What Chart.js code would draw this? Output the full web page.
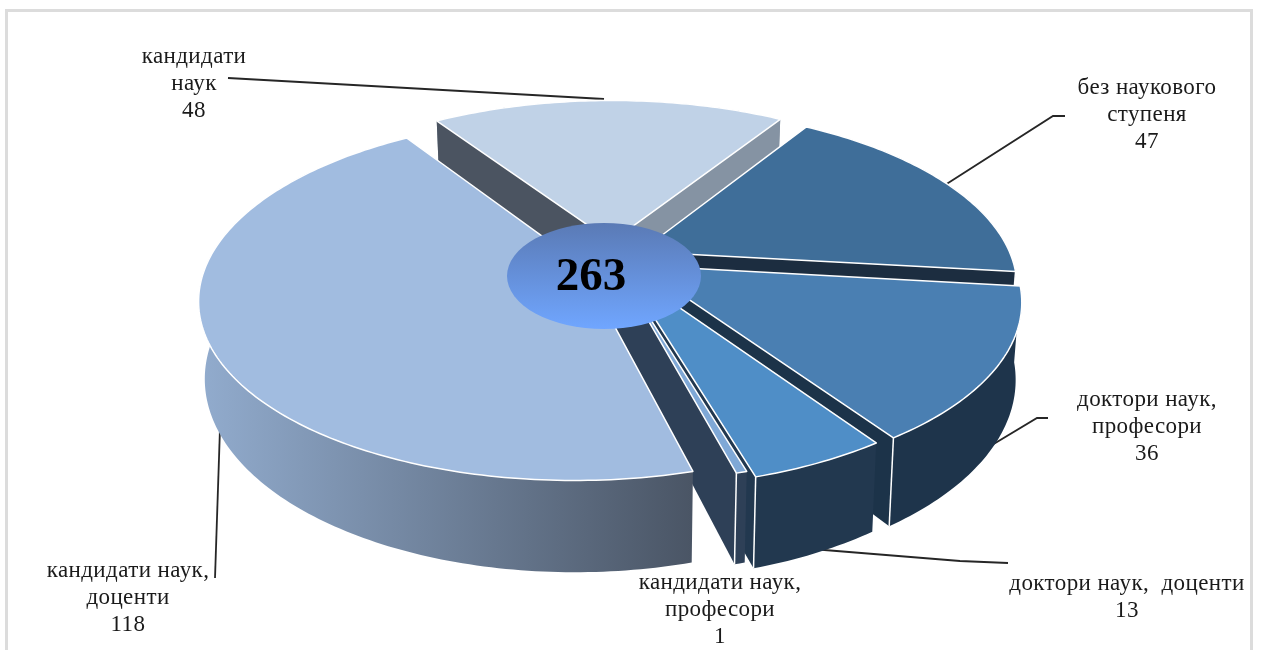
<!DOCTYPE html>
<html>
<head>
<meta charset="utf-8">
<script src="https://cdn.jsdelivr.net/npm/chart.js@4/dist/chart.umd.min.js"></script>
<style>
body { margin: 0; background: #fff; overflow: hidden; }
#frame { position: absolute; left: 5px; top: 9px; width: 1248px; height: 660px; border: 3px solid #dcdcdc; box-sizing: border-box; }
#chart { position: absolute; left: 0; top: 0; }
</style>
</head>
<body>
<div id="frame"></div>
<canvas id="chart" width="1263" height="650"></canvas>
<script>
var categories = ['кандидати наук', 'без наукового ступеня', 'доктори наук, професори', 'доктори наук, доценти', 'кандидати наук, професори', 'кандидати наук, доценти'];
var values = [48, 47, 36, 13, 1, 118];
var total = 263;
var offsets = [30, 26, 26, 22, 14, 28];
var topColors = ['#c0d2e7', '#3f6e99', '#4a7fb2', '#4f8ec7', '#7fa8d6', '#a1bce0'];
var startCutColors = ['#4b5461', '#1c2d40', '#1c3349', '#22384f', '#2e4057', '#4a5565'];
var endCutColors = ['#8593a3', '#1c2d40', '#1c3349', '#22384f', '#2e4057', '#4a5565'];
var wallColors = ['#8593a3', '#1c2d40', '#1e344b', '#22384f', '#2e4057', null];

// text of the call-outs: lines above the value, centre x, y of first line
var callouts = [
	{ lines: ['кандидати', 'наук'], x: 194, y: 57 },
	{ lines: ['без наукового', 'ступеня'], x: 1147, y: 88 },
	{ lines: ['доктори наук,', 'професори'], x: 1147, y: 400 },
	{ lines: ['доктори наук,  доценти'], x: 1127, y: 584 },
	{ lines: ['кандидати наук,', 'професори'], x: 720, y: 583 },
	{ lines: ['кандидати наук,', 'доценти'], x: 128, y: 571 }
];
var leaders = [
	[[228, 78], [604, 99]],
	[[1065, 116], [1053, 116], [945, 185]],
	[[1048, 418], [1037, 418], [982, 451]],
	[[1008, 563], [960, 561], [812, 549]],
	[],
	[[215, 578], [220, 428]]
];

// projection of the flat pie to the tilted view
var CX = 612, CY = 258, RX = 372, RY = 173, Q = 0.1866, DEPTH = 74, NARROW = 0.015;

function proj(u, v, z) {
	var s = 1 / (1 - Q * v);
	return [CX + u * RX * s * (1 - NARROW * z), CY + v * RY * s + z * DEPTH * s];
}

function poly(ctx, pts, fill, stroke) {
	ctx.beginPath();
	pts.forEach(function (p, i) {
		if (i == 0) ctx.moveTo(p[0], p[1]);
		else ctx.lineTo(p[0], p[1]);
	});
	ctx.closePath();
	ctx.fillStyle = fill;
	ctx.fill();
	if (stroke) {
		ctx.strokeStyle = stroke;
		ctx.lineWidth = 1.5;
		ctx.lineJoin = 'round';
		ctx.stroke();
	}
}

function drawSlice(ctx, el, i) {
	var a0 = el.startAngle, a1 = el.endAngle, mid = (a0 + a1) / 2;
	var off = el.options.offset / el.outerRadius;
	var ou = Math.cos(mid) * off, ov = Math.sin(mid) * off;
	var steps = Math.max(2, Math.ceil((a1 - a0) * 60));
	var rim = [], low = [];
	for (var k = 0; k <= steps; k++) {
		var a = a0 + (a1 - a0) * k / steps;
		rim.push(proj(ou + Math.cos(a), ov + Math.sin(a), 0));
		low.push(proj(ou + Math.cos(a), ov + Math.sin(a), 1));
	}
	var apex = proj(ou, ov, 0), apexLow = proj(ou, ov, 1);

	var wall = wallColors[i];
	if (!wall) {
		wall = ctx.createLinearGradient(198, 0, 692, 0);
		wall.addColorStop(0, '#92acce');
		wall.addColorStop(1, '#4a5565');
	}
	poly(ctx, rim.concat(low.slice().reverse()), wall);

	// a cut face shows only when it turns towards the viewer
	var showStart = rim[0][0] < apex[0], showEnd = rim[steps][0] > apex[0];
	if (showStart) poly(ctx, [apex, rim[0], low[0], apexLow], startCutColors[i]);
	if (showEnd) poly(ctx, [apex, rim[steps], low[steps], apexLow], endCutColors[i]);

	// white edges between the faces
	ctx.strokeStyle = '#fff';
	ctx.lineWidth = 1.5;
	[[rim[0], low[0], showStart], [rim[steps], low[steps], showEnd]].forEach(function (e) {
		if (e[2] && e[0][1] > CY) {
			ctx.beginPath();
			ctx.moveTo(e[0][0], e[0][1]);
			ctx.lineTo(e[1][0], e[1][1]);
			ctx.stroke();
		}
	});
	poly(ctx, [apex].concat(rim), el.options.backgroundColor, '#fff');
}

var tiltedPie = {
	id: 'tiltedPie',
	beforeDatasetsDraw: function (chart) {
		var ctx = chart.ctx, arcs = chart.getDatasetMeta(0).data;
		ctx.save();
		// leader lines go under the pie
		ctx.strokeStyle = '#262626';
		ctx.lineWidth = 1.8;
		leaders.forEach(function (l) {
			if (!l.length) return;
			ctx.beginPath();
			l.forEach(function (p, n) {
				if (n == 0) ctx.moveTo(p[0], p[1]);
				else ctx.lineTo(p[0], p[1]);
			});
			ctx.stroke();
		});
		arcs.forEach(function (el, i) { drawSlice(ctx, el, i); });

		// centre disc
		var grad = ctx.createLinearGradient(0, 223, 0, 329);
		grad.addColorStop(0, '#5a7ab5');
		grad.addColorStop(1, '#70a6ff');
		ctx.beginPath();
		ctx.ellipse(604, 276, 97, 53, 0, 0, Math.PI * 2);
		ctx.fillStyle = grad;
		ctx.fill();
		ctx.fillStyle = '#000';
		ctx.textAlign = 'center';
		ctx.textBaseline = 'middle';
		ctx.font = 'bold 47px "Liberation Serif"';
		ctx.fillText(total, 591, 278);

		ctx.fillStyle = '#1a1a1a';
		ctx.font = '23px "Liberation Serif"';
		ctx.letterSpacing = '0.4px';
		callouts.forEach(function (c, i) {
			c.lines.concat(String(values[i])).forEach(function (t, n) {
				ctx.fillText(t, c.x, c.y + n * 27);
			});
		});
		ctx.restore();
		return false;
	}
};

new Chart(document.getElementById('chart'), {
	type: 'pie',
	plugins: [tiltedPie],
	data: {
		labels: categories,
		datasets: [{
			data: values,
			backgroundColor: topColors,
			offset: offsets,
			borderWidth: 0
		}]
	},
	options: {
		responsive: false,
		animation: false,
		events: [],
		rotation: -33.5,
		plugins: {
			legend: { display: false },
			tooltip: { enabled: false }
		}
	}
});
</script>
</body>
</html>
